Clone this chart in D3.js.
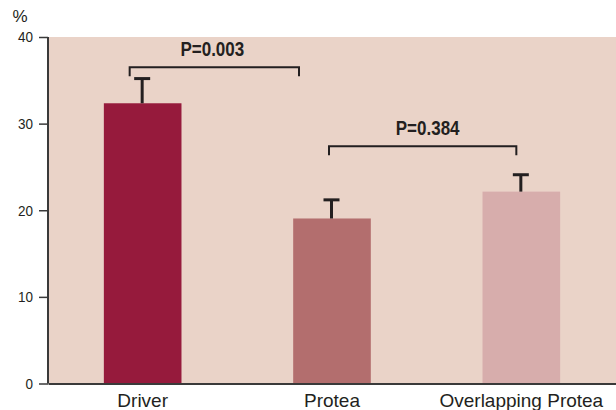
<!DOCTYPE html>
<html>
<head>
<meta charset="utf-8">
<script src="https://cdn.jsdelivr.net/npm/d3@7"></script>
<style>
  body { margin: 0; background: #fff; }
  svg { display: block; }
  text { font-family: "Liberation Sans", sans-serif; fill: #231f20; }
</style>
</head>
<body>
<div id="chart"></div>
<script>
// chart data
let categories = ["Driver", "Protea", "Overlapping Protea"];
let values = [32.35, 19.05, 22.15];
let errorTops = [35.2, 21.2, 24.1];
let barColors = ["#961a3c", "#b36e6e", "#d7adac"];
let yTicks = [0, 10, 20, 30, 40];

// significance brackets
let pLabels = ["P=0.003", "P=0.384"];
let pFrom = ["Driver", "Protea"];
let pTo = ["Protea", "Overlapping Protea"];
let pLevels = [36.5, 27.4];

let width = 616, height = 410;
let margin = {top: 37, right: 0, bottom: 26.5, left: 48};
let innerW = width - margin.left - margin.right;
let innerH = height - margin.top - margin.bottom;

let svg = d3.select("#chart").append("svg")
    .attr("width", width)
    .attr("height", height);

let g = svg.append("g")
    .attr("transform", "translate(" + margin.left + "," + margin.top + ")");

let x = d3.scaleBand()
    .domain(categories)
    .range([0, innerW])
    .paddingInner(0.59)
    .paddingOuter(0.295);

let y = d3.scaleLinear()
    .domain([0, 40])
    .range([innerH, 0]);

// plot background
g.append("rect")
    .attr("x", 0)
    .attr("y", 0)
    .attr("width", innerW)
    .attr("height", innerH)
    .attr("fill", "#ead3c8");

// bars
g.selectAll(".bar")
    .data(categories)
    .join("rect")
    .attr("class", "bar")
    .attr("x", d => x(d))
    .attr("y", (d, i) => y(values[i]))
    .attr("width", x.bandwidth())
    .attr("height", (d, i) => y(0) - y(values[i]))
    .attr("fill", (d, i) => barColors[i]);

// error bars (T shape)
let eb = g.selectAll(".err")
    .data(categories)
    .join("g")
    .attr("class", "err")
    .attr("transform", d => "translate(" + (x(d) + x.bandwidth() / 2 - 0.5) + ",0)");

eb.append("line")
    .attr("y1", (d, i) => y(values[i]))
    .attr("y2", (d, i) => y(errorTops[i]))
    .attr("stroke", "#231f20")
    .attr("stroke-width", 3);

eb.append("line")
    .attr("x1", -8).attr("x2", 8)
    .attr("y1", (d, i) => y(errorTops[i]))
    .attr("y2", (d, i) => y(errorTops[i]))
    .attr("stroke", "#231f20")
    .attr("stroke-width", 3);

// brackets with p values
let insets = [[-13, -33], [-3, -5]];
let drop = 9;
let br = g.selectAll(".bracket")
    .data(pLabels)
    .join("g")
    .attr("class", "bracket");

function bracketEnds(i) {
    let x1 = x(pFrom[i]) + x.bandwidth() / 2 + insets[i][0];
    let x2 = x(pTo[i]) + x.bandwidth() / 2 + insets[i][1];
    return [x1, x2];
}

br.append("path")
    .attr("fill", "none")
    .attr("stroke", "#231f20")
    .attr("stroke-width", 2)
    .attr("d", (d, i) => {
        let [x1, x2] = bracketEnds(i);
        let yy = y(pLevels[i]);
        return "M" + x1 + "," + (yy + drop) + "V" + yy + "H" + x2 + "V" + (yy + drop);
    });

// condensed bold label
br.append("text")
    .attr("transform", (d, i) => {
        let [x1, x2] = bracketEnds(i);
        let cx = (x1 + x2) / 2 + (i === 1 ? 5 : -2);
        return "translate(" + cx + "," + (y(pLevels[i]) - 11) + ") scale(0.85,1)";
    })
    .attr("text-anchor", "middle")
    .attr("font-size", 20)
    .attr("font-weight", "bold")
    .text(d => d);

// y axis
let yAxis = g.append("g")
    .call(d3.axisLeft(y).tickValues(yTicks).tickSize(9).tickPadding(6));
yAxis.select(".domain").remove();
yAxis.selectAll(".tick line").attr("stroke", "#3a3a3a").attr("stroke-width", 1.5);
yAxis.selectAll(".tick text")
    .attr("font-size", 15)
    .attr("fill", "#231f20")
    .attr("transform", "translate(-15,0) scale(0.9,1)")
    .attr("x", 0);

g.append("line")
    .attr("x1", 0).attr("x2", 0)
    .attr("y1", 0).attr("y2", innerH)
    .attr("stroke", "#3a3a3a")
    .attr("stroke-width", 2);

// x axis
let xAxis = g.append("g")
    .attr("transform", "translate(0," + innerH + ")")
    .call(d3.axisBottom(x).tickSize(0).tickPadding(10));
xAxis.select(".domain").attr("stroke", "#3a3a3a").attr("stroke-width", 2);
xAxis.selectAll(".tick text")
    .attr("font-size", 19)
    .attr("fill", "#231f20");

// unit label
svg.append("text")
    .attr("x", 20)
    .attr("y", 22)
    .attr("text-anchor", "middle")
    .attr("font-size", 17)
    .text("%");
</script>
</body>
</html>
